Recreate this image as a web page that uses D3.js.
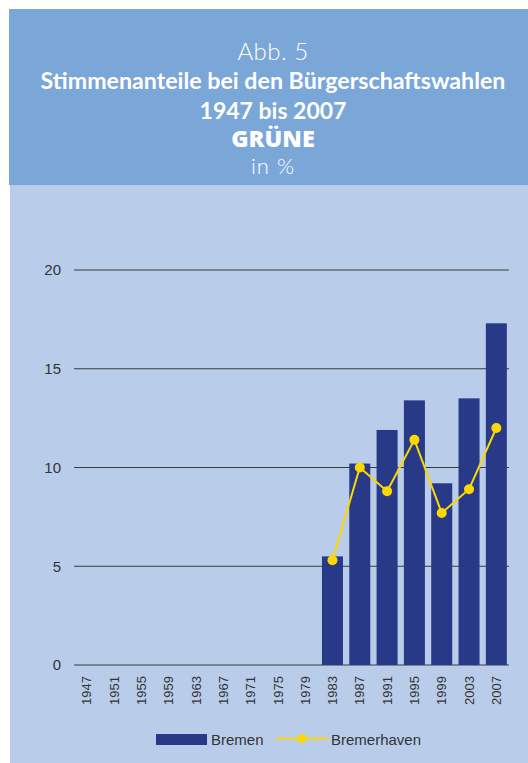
<!DOCTYPE html>
<meta charset="utf-8">
<script src="https://d3js.org/d3.v7.min.js"></script>
<style>
  body { margin: 0; background: #fff; }
</style>
<svg id="chart" width="528" height="763"></svg>
<script>

    // Data
    const years = ["1947","1951","1955","1959","1963","1967","1971","1975","1979","1983","1987","1991","1995","1999","2003","2007"]
    const bremenYears = ["1983","1987","1991","1995","1999","2003","2007"]
    const bremen = [5.5, 10.2, 11.9, 13.4, 9.2, 13.5, 17.3]
    const bremerhaven = [5.3, 10.0, 8.8, 11.4, 7.7, 8.9, 12.0]
    const yTicks = [0, 5, 10, 15, 20]
    const titleLines = ["Abb. 5", "Stimmenanteile bei den Bürgerschaftswahlen", "1947 bis 2007", "GRÜNE", "in %"]

    const svg = d3.select("#chart")

    // backgrounds
    svg.append("rect")
        .attr("x", 10).attr("y", 185)
        .attr("width", 518).attr("height", 578)
        .attr("fill", "#b9cdea")
    svg.append("rect")
        .attr("x", 9).attr("y", 9)
        .attr("width", 519).attr("height", 176)
        .attr("fill", "#7ba6d8")

    // title
    const titleStyle = [
      {y: 60, size: 24, weight: 300, ls: 0.5, font: "Lato"},
      {y: 89, size: 23.2, weight: 700, ls: 0, font: "Lato"},
      {y: 118.5, size: 23, weight: 700, ls: 0, font: "Lato"},
      {y: 147, size: 23.5, weight: 800, ls: 0, font: "'Open Sans'"},
      {y: 174, size: 22, weight: 300, ls: 1, font: "Lato"}
    ]
    svg.selectAll("text.title")
      .data(titleLines)
      .join("text")
        .attr("class", "title")
        .attr("x", 273)
        .attr("y", (d, i) => titleStyle[i].y)
        .attr("text-anchor", "middle")
        .style("font-family", (d, i) => titleStyle[i].font + ", sans-serif")
        .style("font-size", (d, i) => titleStyle[i].size + "px")
        .style("font-weight", (d, i) => titleStyle[i].weight)
        .style("letter-spacing", (d, i) => titleStyle[i].ls + "px")
        .attr("fill", "#fff")
        .text(d => d)

    // scales
    const x = d3.scaleBand()
        .domain(years)
        .range([73, 510])
        .paddingInner(0.23)
        .paddingOuter(0.115)

    const y = d3.scaleLinear()
        .domain([0, 20])
        .range([665, 270])

    // gridlines
    svg.append("g")
      .selectAll("line")
      .data(yTicks)
      .join("line")
        .attr("x1", 74).attr("x2", 509)
        .attr("y1", d => y(d)).attr("y2", d => y(d))
        .attr("stroke", "#3a3a3a")
        .attr("stroke-width", 1)

    // y labels
    svg.append("g")
      .selectAll("text")
      .data(yTicks)
      .join("text")
        .attr("x", 61)
        .attr("y", d => y(d))
        .attr("dy", "0.35em")
        .attr("text-anchor", "end")
        .style("font-family", "'Liberation Sans', Arial, sans-serif")
        .style("font-size", "15px")
        .attr("fill", "#333")
        .text(d => d)

    // bars
    svg.append("g")
      .selectAll("rect")
      .data(bremenYears)
      .join("rect")
        .attr("x", d => x(d))
        .attr("width", x.bandwidth())
        .attr("y", (d, i) => y(bremen[i]))
        .attr("height", (d, i) => y(0) - y(bremen[i]))
        .attr("fill", "#283a87")

    // line
    const line = d3.line()
        .x((d, i) => x(bremenYears[i]) + x.bandwidth() / 2)
        .y(d => y(d))

    svg.append("path")
        .datum(bremerhaven)
        .attr("d", line)
        .attr("fill", "none")
        .attr("stroke", "#fdd800")
        .attr("stroke-width", 2)

    svg.append("g")
      .selectAll("circle")
      .data(bremerhaven)
      .join("circle")
        .attr("cx", (d, i) => x(bremenYears[i]) + x.bandwidth() / 2)
        .attr("cy", d => y(d))
        .attr("r", 5)
        .attr("fill", "#fdd800")

    // x labels (rotated)
    svg.append("g")
      .selectAll("text")
      .data(years)
      .join("text")
        .attr("transform", d => `translate(${x(d) + x.bandwidth() / 2 + 4.7},676) rotate(-90)`)
        .attr("text-anchor", "end")
        .style("font-family", "'Liberation Sans', Arial, sans-serif")
        .style("font-size", "13px")
        .attr("fill", "#333")
        .text(d => d)

    // legend
    const legend = svg.append("g")
    legend.append("rect")
        .attr("x", 156).attr("y", 734)
        .attr("width", 51).attr("height", 11)
        .attr("fill", "#283a87")
    legend.append("text")
        .attr("x", 211).attr("y", 744.5)
        .style("font-family", "'Liberation Sans', Arial, sans-serif")
        .style("font-size", "15px")
        .attr("fill", "#333")
        .text("Bremen")
    legend.append("line")
        .attr("x1", 276).attr("x2", 328)
        .attr("y1", 738.5).attr("y2", 738.5)
        .attr("stroke", "#fdd800")
        .attr("stroke-width", 2)
    legend.append("circle")
        .attr("cx", 302).attr("cy", 738.5).attr("r", 4.5)
        .attr("fill", "#fdd800")
    legend.append("text")
        .attr("x", 331).attr("y", 744.5)
        .style("font-family", "'Liberation Sans', Arial, sans-serif")
        .style("font-size", "15px")
        .attr("fill", "#333")
        .text("Bremerhaven")

</script>
